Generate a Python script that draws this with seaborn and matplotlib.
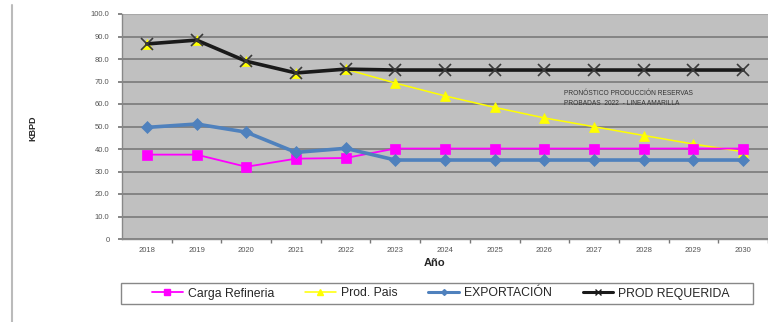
import matplotlib
matplotlib.use("Agg")
import matplotlib.pyplot as plt
import seaborn as sns
import pandas as pd
from matplotlib.lines import Line2D
from matplotlib.patches import Rectangle

# Series (KBPD per year)
years = ["2018", "2019", "2020", "2021", "2022", "2023", "2024",
         "2025", "2026", "2027", "2028", "2029", "2030"]
carga_refineria = [37.5, 37.5, 32.1, 35.7, 36.0, 40.2, 40.2, 40.2, 40.2, 40.2, 40.2, 40.2, 40.2]
prod_pais = [86.7, 88.4, 79.0, 73.8, 75.5, 69.3, 63.6, 58.5, 53.8, 49.9, 46.0, 42.2, 38.8]
exportacion = [49.6, 51.1, 47.5, 38.5, 40.3, 35.1, 35.1, 35.1, 35.1, 35.1, 35.1, 35.1, 35.1]
prod_requerida = [86.7, 88.4, 79.0, 73.8, 75.5, 75.1, 75.1, 75.1, 75.1, 75.1, 75.1, 75.1, 75.1]
y_ticks = [0, 10, 20, 30, 40, 50, 60, 70, 80, 90, 100]
y_tick_labels = ["0", "10.0", "20.0", "30.0", "40.0", "50.0", "60.0",
                 "70.0", "80.0", "90.0", "100.0"]

sns.set_theme(style="white")
plt.rcParams["font.family"] = ["Liberation Sans", "DejaVu Sans"]

fig = plt.figure(figsize=(7.68, 3.22), dpi=100)
ax = fig.add_axes([122 / 768, 1 - 239 / 322, (768 - 122) / 768, 225 / 322])
ax.set_facecolor("#c0c0c0")

pos = list(range(len(years)))
series = [
    ("Carga Refineria", carga_refineria, "#ff00ff", "s", 1.3, 7, "#ff00ff", "#ff00ff", 3),
    ("Prod. Pais", prod_pais, "#ffff00", "^", 1.1, 7, "#ffff00", "#ffff00", 2),
    ("EXPORTACIÓN", exportacion, "#4f81bd", "D", 2.6, 6.5, "#4f81bd", "#4f81bd", 4),
    ("PROD REQUERIDA", prod_requerida, "#1a1a1a", "x", 2.6, 8, "#1a1a1a", "#3a3a3a", 5),
]
for name, vals, color, mk, lw, ms, mfc, mec, z in series:
    df = pd.DataFrame({"pos": pos, "val": vals})
    sns.lineplot(data=df, x="pos", y="val", ax=ax, color=color, linewidth=lw,
                 marker=mk, markersize=ms, markerfacecolor=mfc,
                 markeredgecolor=mec, markeredgewidth=1.2 if mk == "x" else 0.5,
                 zorder=z, legend=False)

ax.set_xlim(-0.5, 12.48)
ax.set_ylim(0, 100)
ax.set_yticks(y_ticks)
ax.set_yticklabels(y_tick_labels)
ax.set_xticks(pos)
ax.set_xticklabels(years)
ax.set_xticks([p + 0.5 for p in pos], minor=True)
ax.tick_params(axis="x", which="major", length=0, labelsize=5.5,
               labelcolor="#555555", pad=6)
ax.tick_params(axis="x", which="minor", length=3, color="#777777",
               direction="out", bottom=True)
ax.tick_params(axis="y", length=3, color="#777777", direction="out", left=True,
               labelsize=5.5, labelcolor="#555555", pad=6)
ax.grid(axis="y", color="#7f7f7f", linewidth=1.3)
ax.grid(axis="x", visible=False)
ax.set_axisbelow(True)
for s in ["top", "right"]:
    ax.spines[s].set_visible(False)
ax.spines["left"].set_color("#888888")
ax.spines["bottom"].set_color("#888888")
ax.spines["left"].set_linewidth(1.0)
ax.spines["bottom"].set_linewidth(1.0)
ax.axhline(100, color="#a8a8a8", linewidth=1.5, zorder=1)

ax.set_xlabel("")
ax.set_ylabel("")
fig.text(435 / 768, 1 - 263 / 322, "Año", fontsize=8, fontweight="bold",
         ha="center", va="center")
fig.text(33 / 768, 1 - 128 / 322, "KBPD", fontsize=6.5, fontweight="bold",
         rotation=90, ha="center", va="center")

ax.text(8.4, 62.5,
        "PRONÓSTICO PRODUCCIÓN RESERVAS\nPROBADAS  2022  - LINEA AMARILLA",
        fontsize=4.8, color="#333333", ha="left", va="center", linespacing=1.6)

# Left border line
fig.add_artist(Line2D([12 / 768, 12 / 768], [0, 1 - 5 / 322],
                      color="#bbbbbb", linewidth=1.5, transform=fig.transFigure))

# Legend box
fig.add_artist(Rectangle((121 / 768, 1 - 304 / 322), (753 - 121) / 768, 21 / 322,
                         transform=fig.transFigure, facecolor="white",
                         edgecolor="#888888", linewidth=1.0, zorder=0))

handles = [
    Line2D([], [], color="#ff00ff", marker="s", markersize=4, linewidth=1.3),
    Line2D([], [], color="#ffff00", marker="^", markersize=4, linewidth=1.1),
    Line2D([], [], color="#4f81bd", marker="D", markersize=3, linewidth=2.2),
    Line2D([], [], color="#1a1a1a", marker="x", markersize=4, linewidth=2.2),
]
labels = ["Carga Refineria", "Prod. Pais", "EXPORTACIÓN", "PROD REQUERIDA"]
leg = fig.legend(handles, labels, loc="center", ncol=4,
                 bbox_to_anchor=(441 / 768, 1 - 293.5 / 322), frameon=False,
                 fontsize=8.8, handlelength=2.5, handletextpad=0.4,
                 columnspacing=2.55, borderpad=0.3, borderaxespad=0)

fig.savefig("out.png", dpi=100)
